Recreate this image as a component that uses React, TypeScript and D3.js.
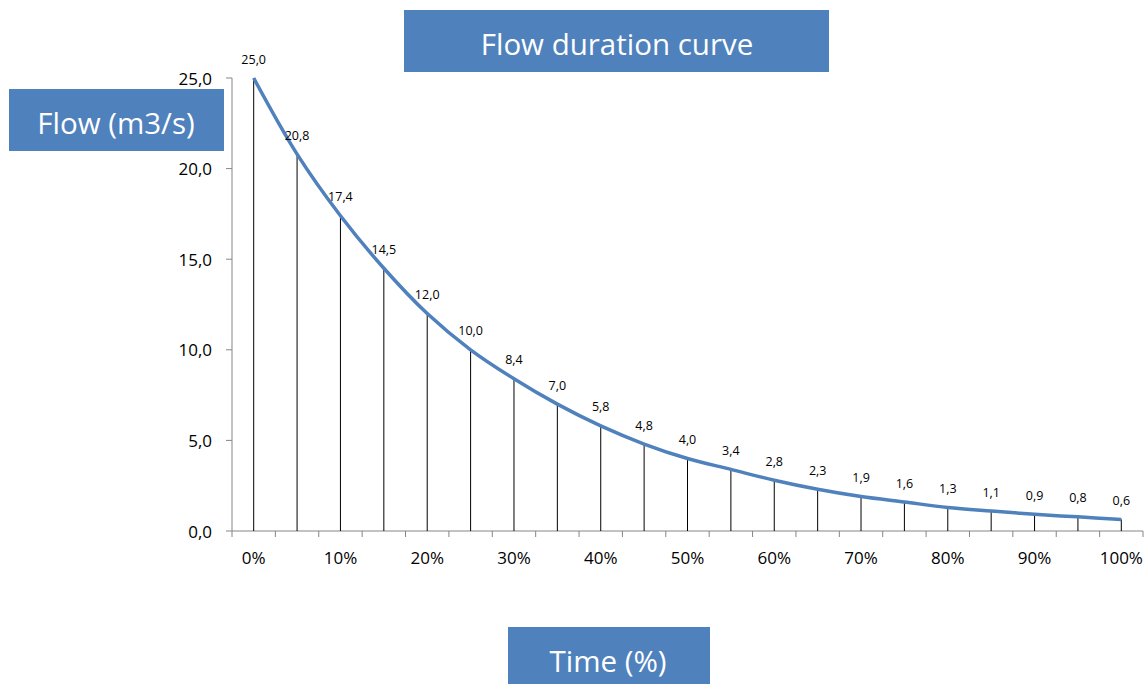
import React from "react";
import * as d3 from "d3";

const categories: string[] = [
  "0%", "5%", "10%", "15%", "20%", "25%", "30%", "35%", "40%", "45%", "50%",
  "55%", "60%", "65%", "70%", "75%", "80%", "85%", "90%", "95%", "100%",
];
const flows: number[] = [
  25.0, 20.8, 17.4, 14.5, 12.0, 10.0, 8.4, 7.0, 5.8, 4.8, 4.0,
  3.4, 2.8, 2.3, 1.9, 1.6, 1.3, 1.1, 0.92, 0.78, 0.64,
];
const yTicks: number[] = [0, 5, 10, 15, 20, 25];
const title = "Flow duration curve";
const yTitle = "Flow (m3/s)";
const xTitle = "Time (%)";

const W = 1146;
const H = 684;
const FONT = "'Open Sans', 'Noto Sans', sans-serif";
const BLUE = "#4F81BD";
const AXIS = "#868686";

const fmt = (v: number) => v.toFixed(1).replace(".", ",");

export default function App() {
  const x = d3.scaleBand<string>().domain(categories).range([232, 1143]).padding(0);
  const y = d3.scaleLinear().domain([0, 25]).range([531, 78]);
  const cx = (c: string) => (x(c) as number) + x.bandwidth() / 2;

  const line = d3
    .line<number>()
    .x((_, i) => cx(categories[i]))
    .y((d) => y(d))
    .curve(d3.curveCatmullRom.alpha(0.5));

  const tickPositions = [...categories.map((c) => x(c) as number), 1143];

  return (
    <svg width={W} height={H} style={{ position: "absolute", left: 0, top: 0, background: "#fff" }}>
      {/* title */}
      <rect x={404} y={10} width={425} height={62} fill={BLUE} />
      <text x={617} y={43} fill="#fff" fontFamily={FONT} fontSize={29.5} textAnchor="middle" dominantBaseline="central">
        {title}
      </text>

      {/* y axis title */}
      <rect x={9} y={89} width={215} height={62} fill={BLUE} />
      <text x={116} y={122} fill="#fff" fontFamily={FONT} fontSize={29.5} textAnchor="middle" dominantBaseline="central">
        {yTitle}
      </text>

      {/* x axis title */}
      <rect x={508} y={627} width={202} height={60} fill={BLUE} />
      <text x={608} y={660} fill="#fff" fontFamily={FONT} fontSize={29.5} textAnchor="middle" dominantBaseline="central">
        {xTitle}
      </text>

      {/* y axis */}
      <line x1={232} x2={232} y1={y(25)} y2={y(0)} stroke={AXIS} strokeWidth={1} />
      {yTicks.map((t) => (
        <g key={t}>
          <line x1={226} x2={232} y1={y(t)} y2={y(t)} stroke={AXIS} strokeWidth={1} />
          <text x={212} y={y(t)} fontFamily={FONT} fontSize={17} textAnchor="end" dominantBaseline="central" fill="#000">
            {fmt(t)}
          </text>
        </g>
      ))}

      {/* x axis */}
      <line x1={232} x2={1143} y1={y(0)} y2={y(0)} stroke={AXIS} strokeWidth={1} />
      {tickPositions.map((p, i) => (
        <line key={i} x1={p} x2={p} y1={y(0)} y2={y(0) + 6} stroke={AXIS} strokeWidth={1} />
      ))}
      {categories.map((c, i) =>
        i % 2 === 0 ? (
          <text key={c} x={cx(c)} y={557} fontFamily={FONT} fontSize={17} textAnchor="middle" dominantBaseline="central" fill="#000">
            {c}
          </text>
        ) : null
      )}

      {/* drop lines */}
      {flows.map((v, i) => (
        <line key={i} x1={cx(categories[i])} x2={cx(categories[i])} y1={y(0)} y2={y(v)} stroke="#000" strokeWidth={1} />
      ))}

      {/* curve */}
      <path d={line(flows) || ""} fill="none" stroke={BLUE} strokeWidth={3.5} />

      {/* data labels */}
      {flows.map((v, i) => (
        <text key={i} x={cx(categories[i])} y={y(v) - 19} fontFamily={FONT} fontSize={12.5} textAnchor="middle" dominantBaseline="central" fill="#000">
          {fmt(v)}
        </text>
      ))}
    </svg>
  );
}
